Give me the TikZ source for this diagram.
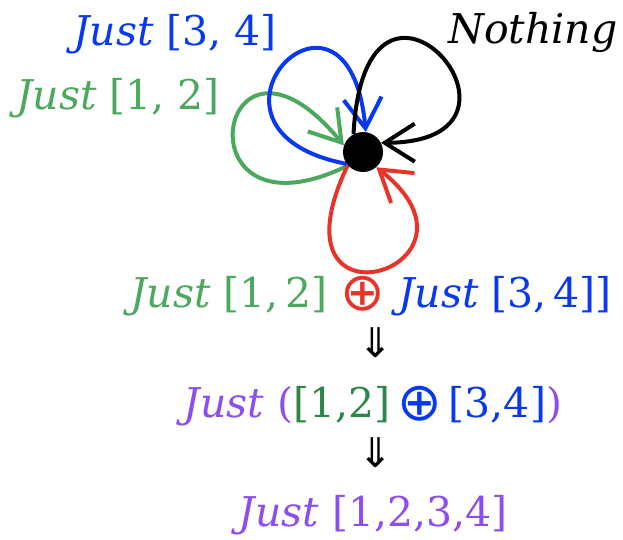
\documentclass[tikz,border=0pt]{standalone}
\usepackage{fontspec}
\setmainfont{DejaVu Serif}
\newfontfamily\symf{DejaVu Sans}
\usetikzlibrary{arrows.meta,backgrounds}
\definecolor{jgreen}{RGB}{76,168,92}
\definecolor{jdgreen}{RGB}{46,135,72}
\definecolor{jblue}{RGB}{8,56,240}
\definecolor{jred}{RGB}{232,52,40}
\definecolor{jpurple}{RGB}{140,78,240}
\newcommand{\opsym}{\raisebox{-3pt}{\scalebox{1.3}{\symf ⊕}}}
\tikzset{
  lbl/.style={inner sep=0pt, anchor=base, font=\fontsize{41}{50}\selectfont},
  loopline/.style={line width=4pt, -{Straight Barb[length=30pt,width=38pt]}},
  hub/.style={circle, fill=black, minimum size=40pt, inner sep=0pt},
}
\begin{document}
\begin{tikzpicture}[x=1pt,y=-1pt]
\useasboundingbox (0,0) rectangle (623,539);
\node[hub] (c) at (363,152) {};
\begin{scope}[on background layer]
  \draw[loopline, jgreen] (c.222) .. controls (175,250) and (217,-9) .. (c.161);
  \draw[loopline, jred] (c.221) .. controls (263,342) and (505,268) .. (c.311);
  \draw[loopline, jblue] (c.216) .. controls (170,130) and (348,-55) .. (c.82);
  \draw[loopline, black] (c.118) .. controls (365,-87) and (563,142) .. (c.27);
\end{scope}
\node[lbl, text=jblue] (l34) at (175,45) {\textit{Just} [3, 4]};
\node[lbl, text=black] (lno) at (533,43) {\textit{Nothing}};
\node[lbl, text=jgreen] (l12) at (118,109) {\textit{Just} [1, 2]};
\node[lbl] (e1) at (371,307) {{\color{jgreen}\textit{Just} [1,\,2]}\hspace{13pt}{\color{jred}\opsym}\hspace{13pt}{\color{jblue}\textit{Just} [3,\,4]]}};
\node[lbl] (d1) at (376,357) {\symf ⇓};
\node[lbl] (e2) at (373,417) {{\color{jpurple}\textit{Just} (}{\color{jdgreen}[1,2]}\,{\color{jblue}\opsym\,[3,4]}{\color{jpurple})}};
\node[lbl] (d2) at (376,467) {\symf ⇓};
\node[lbl, text=jpurple] (e3) at (373,526) {\textit{Just} [1,2,3,4]};
\end{tikzpicture}
\end{document}
